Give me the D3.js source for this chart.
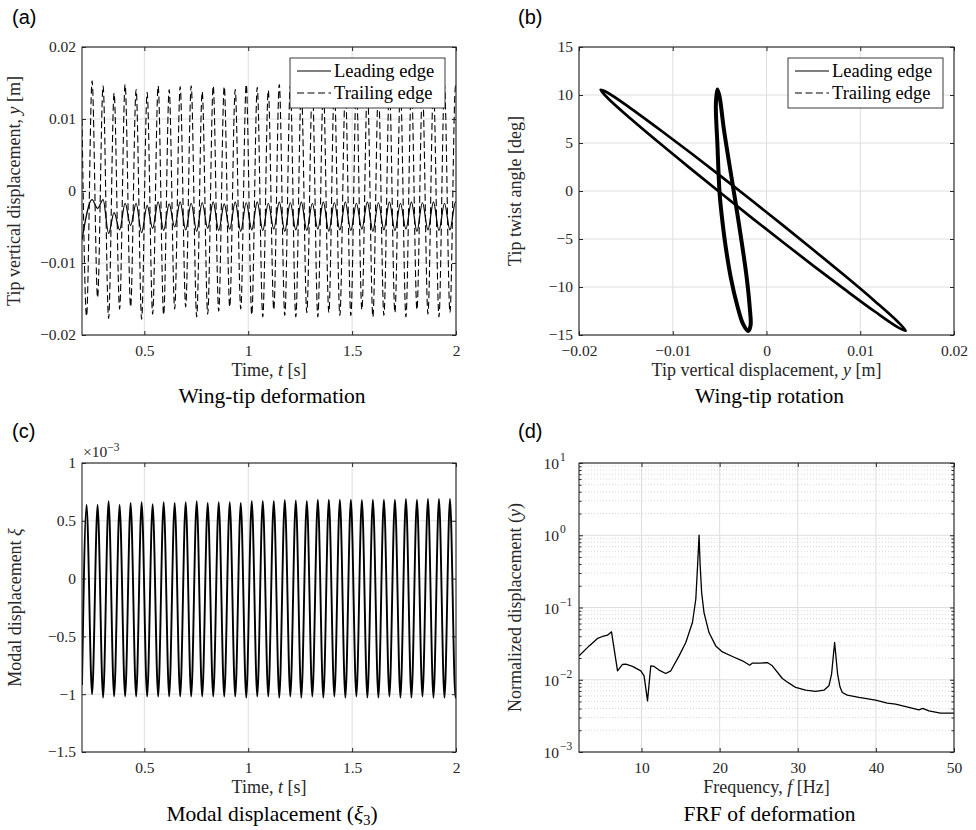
<!DOCTYPE html>
<html>
<head>
<meta charset="utf-8">
<script src="https://cdn.jsdelivr.net/npm/d3@7"></script>
<style>
  body { margin: 0; background: #fff; }
  svg text { font-family: "Liberation Serif", "Times New Roman", serif; }
  svg text.tag { font-family: "Liberation Sans", Arial, sans-serif; }
</style>
</head>
<body>
<script>
// ---------------- data ----------------
// (a) & (c): sampled instants (s) at each extremum of the response
const sampleTime = [0.2,0.222,0.2485,0.275,0.3015,0.328,0.3545,0.381,0.4075,0.434,0.4605,0.487,0.5135,0.540,0.5665,0.593,0.6195,0.646,0.6725,0.699,0.7255,0.752,0.7785,0.805,0.8315,0.858,0.8845,0.911,0.9375,0.964,0.9905,1.017,1.0435,1.070,1.0965,1.123,1.1495,1.176,1.2025,1.229,1.2555,1.282,1.3085,1.335,1.3615,1.388,1.4145,1.441,1.4675,1.494,1.5205,1.547,1.5735,1.600,1.6265,1.653,1.6795,1.706,1.7325,1.759,1.7855,1.812,1.8385,1.865,1.8915,1.918,1.9445,1.971,1.9975,2.0];

// trailing-edge tip displacement (m)
const teDisp = [0.0100,-0.0174,0.0153,-0.0148,0.0146,-0.0177,0.0136,-0.0164,0.0148,-0.0161,0.0141,-0.0178,0.0137,-0.0171,0.0146,-0.0172,0.0141,-0.0164,0.0145,-0.0161,0.0146,-0.0175,0.0138,-0.0171,0.0146,-0.0167,0.0145,-0.0161,0.0141,-0.0164,0.0148,-0.0172,0.0144,-0.0175,0.0140,-0.0165,0.0148,-0.0173,0.0146,-0.0175,0.0143,-0.0169,0.0147,-0.0175,0.0144,-0.0169,0.0146,-0.0173,0.0142,-0.0173,0.0147,-0.0165,0.0145,-0.0175,0.0143,-0.0173,0.0146,-0.0169,0.0144,-0.0175,0.0147,-0.0165,0.0143,-0.0171,0.0146,-0.0175,0.0147,-0.0169,0.0146,0.0145];

// leading-edge tip displacement (m)
const leTime = [0.2,0.2485,0.275,0.3015,0.328,0.3545,0.381,0.4075,0.434,0.4605,0.487,0.5135,0.540,0.5665,0.593,0.6195,0.646,0.6725,0.699,0.7255,0.752,0.7785,0.805,0.8315,0.858,0.8845,0.911,0.9375,0.964,0.9905,1.017,1.0435,1.070,1.0965,1.123,1.1495,1.176,1.2025,1.229,1.2555,1.282,1.3085,1.335,1.3615,1.388,1.4145,1.441,1.4675,1.494,1.5205,1.547,1.5735,1.600,1.6265,1.653,1.6795,1.706,1.7325,1.759,1.7855,1.812,1.8385,1.865,1.8915,1.918,1.9445,1.971,1.9975,2.0];
const leDisp = [-0.0068,-0.0012,-0.0024,-0.0012,-0.0059,-0.0030,-0.0054,-0.0017,-0.0048,-0.0017,-0.0058,-0.0020,-0.0052,-0.0015,-0.0055,-0.0018,-0.0050,-0.0015,-0.0054,-0.0017,-0.0056,-0.0016,-0.0052,-0.0015,-0.0055,-0.0018,-0.0053,-0.0015,-0.0056,-0.0016,-0.0054,-0.0015,-0.0055,-0.0017,-0.0053,-0.0015,-0.0056,-0.0016,-0.0054,-0.0015,-0.0055,-0.0017,-0.0053,-0.0015,-0.0056,-0.0016,-0.0054,-0.0015,-0.0055,-0.0017,-0.0053,-0.0015,-0.0056,-0.0016,-0.0054,-0.0015,-0.0055,-0.0017,-0.0053,-0.0015,-0.0056,-0.0016,-0.0054,-0.0015,-0.0055,-0.0017,-0.0054,-0.0015,-0.0016];

// (c) modal displacement xi_3, in units of 1e-3
const xiScaled = [-0.92,0.637,-1.00,0.637,-1.03,0.669,-1.02,0.637,-1.02,0.654,-1.02,0.660,-1.02,0.643,-1.02,0.660,-1.02,0.654,-1.02,0.660,-1.02,0.669,-1.02,0.654,-1.02,0.660,-1.02,0.660,-1.02,0.654,-1.03,0.672,-1.02,0.672,-1.02,0.672,-1.03,0.680,-1.02,0.677,-1.03,0.672,-1.02,0.683,-1.03,0.683,-1.02,0.683,-1.03,0.683,-1.02,0.680,-1.03,0.683,-1.03,0.683,-1.02,0.683,-1.03,0.689,-1.03,0.683,-1.02,0.689,-1.03,0.689,-1.03,0.689,-1.03,-1.01];

// (b) phase portraits: tip displacement (m) vs twist angle (deg)
const teLoopDisp  = [-0.0177,-0.01689,-0.01445,-0.01119,-0.00793,-0.00468,-0.00143,0.00183,0.00508,0.00834,0.01159,0.01403,0.01485,0.01403,0.01159,0.00834,0.00508,0.00183,-0.00143,-0.00468,-0.00793,-0.01119,-0.01445,-0.01689];
const teLoopTwist = [10.55,10.21,8.58,6.25,3.85,1.39,-1.10,-3.63,-6.20,-8.81,-11.50,-13.64,-14.55,-14.20,-12.58,-10.25,-7.85,-5.39,-2.90,-0.37,2.20,4.81,7.50,9.64];
const leLoopDisp  = [-0.00524,-0.00500,-0.00458,-0.00403,-0.00345,-0.00262,-0.00212,-0.00180,-0.00170,-0.00195,-0.00248,-0.00310,-0.00382,-0.00440,-0.00478,-0.00500,-0.00524,-0.00540];
const leLoopTwist = [10.58,9.8,6.67,3.2,-0.28,-5.49,-8.96,-12.0,-14.0,-14.58,-13.9,-12.0,-8.96,-5.49,-2.5,-0.28,4.93,9.0];

// (d) frequency response of the tip deformation
const frfFreq = [2.02,3.3,4.37,5.01,5.65,6.16,6.93,7.57,7.99,8.85,9.91,10.33,10.77,11.19,11.61,12.25,13.1,13.75,14.81,15.67,16.52,16.95,17.15,17.37,17.5,17.7,18.0,18.64,19.5,20.36,21.64,22.92,23.85,24.2,25.26,26.1,26.75,28.03,28.88,29.73,31.0,32.29,33.35,33.99,34.33,34.72,35.1,35.4,35.7,36.34,37.83,39.96,41.46,42.52,44.23,45.51,46.0,46.78,48.27,50.0];
const frfAmp  = [0.0214,0.0294,0.0373,0.0397,0.0414,0.046,0.0133,0.0163,0.0164,0.0153,0.0133,0.0113,0.0051,0.0156,0.0153,0.0136,0.0122,0.0133,0.0214,0.0328,0.062,0.130,0.33,1.0,0.40,0.16,0.085,0.045,0.0294,0.0243,0.021,0.0183,0.0159,0.0170,0.0170,0.0173,0.0156,0.0104,0.00897,0.00782,0.00718,0.00689,0.00718,0.00824,0.0120,0.0328,0.0120,0.0080,0.00667,0.00612,0.00569,0.00522,0.00475,0.0046,0.00414,0.00384,0.00401,0.00371,0.00345,0.00345];

// axis ticks and labels
const timeTicks = [0.5, 1, 1.5, 2];
const timeTickLabels = ["0.5", "1", "1.5", "2"];
const dispTicks = [-0.02, -0.01, 0, 0.01, 0.02];
const dispTickLabels = ["\u22120.02", "\u22120.01", "0", "0.01", "0.02"];
const twistTicks = [-15, -10, -5, 0, 5, 10, 15];
const twistTickLabels = ["\u221215", "\u221210", "\u22125", "0", "5", "10", "15"];
const xiTicks = [-1.5, -1, -0.5, 0, 0.5, 1];
const xiTickLabels = ["\u22121.5", "\u22121", "\u22120.5", "0", "0.5", "1"];
const freqTicks = [10, 20, 30, 40, 50];
const freqTickLabels = ["10", "20", "30", "40", "50"];
const ampTicks = [1e-3, 1e-2, 1e-1, 1, 10];
const ampTickExponents = ["\u22123", "\u22122", "\u22121", "0", "1"];
const legendNames = ["Leading edge", "Trailing edge"];

// ---------------- layout ----------------
const W = 976, H = 830;
const AXIS = "#262626", GRID = "#dedede", FS_TICK = 15.5, FS_LAB = 18, FS_LEG = 18.5, FS_TITLE = 21.5;
const svg = d3.select("body").append("svg").attr("width", W).attr("height", H);

const boxes = {
  a: {l: 82, r: 456, t: 47, b: 335},
  b: {l: 579, r: 954, t: 47, b: 335},
  c: {l: 82, r: 456, t: 463, b: 752},
  d: {l: 579, r: 954, t: 463, b: 752}
};

function clip(id, bx) {
  svg.append("clipPath").attr("id", id).append("rect")
    .attr("x", bx.l).attr("y", bx.t).attr("width", bx.r - bx.l).attr("height", bx.b - bx.t);
}

function grid(bx, x, y, xt, yt) {
  const g = svg.append("g").attr("stroke", GRID).attr("stroke-width", 1);
  g.selectAll(null).data(xt).join("line")
    .attr("x1", d => x(d)).attr("x2", d => x(d)).attr("y1", bx.t).attr("y2", bx.b);
  g.selectAll(null).data(yt).join("line")
    .attr("y1", d => y(d)).attr("y2", d => y(d)).attr("x1", bx.l).attr("x2", bx.r);
}

function styleAxis(g) {
  g.attr("font-size", FS_TICK).attr("color", AXIS);
  g.select(".domain").remove();
  g.selectAll("text").attr("fill", AXIS);
}

function axes(bx, x, y, xt, xl, yt, yl) {
  svg.append("g").attr("transform", `translate(0,${bx.b})`)
    .call(d3.axisBottom(x).tickValues(xt).tickFormat((d, i) => xl[i]).tickSize(-4).tickPadding(9.5))
    .call(styleAxis);
  svg.append("g").attr("transform", `translate(0,${bx.t})`)
    .call(d3.axisTop(x).tickValues(xt).tickFormat("").tickSize(-4))
    .call(styleAxis);
  svg.append("g").attr("transform", `translate(${bx.l},0)`)
    .call(d3.axisLeft(y).tickValues(yt).tickFormat(yl ? (d, i) => yl[i] : "").tickSize(-4).tickPadding(6))
    .call(styleAxis);
  svg.append("g").attr("transform", `translate(${bx.r},0)`)
    .call(d3.axisRight(y).tickValues(yt).tickFormat("").tickSize(-4))
    .call(styleAxis);
  svg.append("rect").attr("x", bx.l).attr("y", bx.t)
    .attr("width", bx.r - bx.l).attr("height", bx.b - bx.t)
    .attr("fill", "none").attr("stroke", AXIS).attr("stroke-width", 1.1);
}

function xLabel(bx, parts, dyBelow) {
  const t = svg.append("text").attr("x", (bx.l + bx.r) / 2).attr("y", bx.b + dyBelow)
    .attr("text-anchor", "middle").attr("font-size", FS_LAB).attr("fill", AXIS);
  parts.forEach(p => t.append("tspan").attr("font-style", p[1] ? "italic" : null).text(p[0]));
}
function yLabel(bx, xpos, parts) {
  const t = svg.append("text")
    .attr("transform", `translate(${xpos},${(bx.t + bx.b) / 2}) rotate(-90)`)
    .attr("text-anchor", "middle").attr("font-size", FS_LAB).attr("fill", AXIS);
  parts.forEach(p => t.append("tspan").attr("font-style", p[1] ? "italic" : null).text(p[0]));
}
function title(bx, yb, build) {
  const t = svg.append("text").attr("x", (bx.l + bx.r) / 2 + 3).attr("y", yb)
    .attr("text-anchor", "middle").attr("font-size", FS_TITLE).attr("fill", "#000");
  build(t);
}
function tag(x, y, s) {
  svg.append("text").attr("class", "tag").attr("x", x).attr("y", y).text(s)
    .attr("font-size", 20).attr("fill", "#000");
}
function legend(x0, y0) {
  const w = 155, h = 50;
  const g = svg.append("g");
  g.append("rect").attr("x", x0).attr("y", y0).attr("width", w).attr("height", h)
    .attr("fill", "#fff").attr("stroke", AXIS).attr("stroke-width", 0.9);
  legendNames.forEach((name, i) => {
    const yy = y0 + 13 + i * 22;
    g.append("line").attr("x1", x0 + 7).attr("x2", x0 + 41).attr("y1", yy).attr("y2", yy)
      .attr("stroke", "#000").attr("stroke-width", 1.1)
      .attr("stroke-dasharray", i === 1 ? "7,3.5" : null);
    g.append("text").attr("x", x0 + 44).attr("y", yy + 5.5).attr("font-size", FS_LEG)
      .attr("fill", "#000").text(name);
  });
}

// ---------------- (a) wing-tip deformation ----------------
{
  const bx = boxes.a;
  const x = d3.scaleLinear().domain([0.2, 2]).range([bx.l, bx.r]);
  const y = d3.scaleLinear().domain([-0.02, 0.02]).range([bx.b, bx.t]);
  clip("clipA", bx);
  grid(bx, x, y, timeTicks, dispTicks);
  const line = d3.line().x(d => x(d[0])).y(d => y(d[1])).curve(d3.curveMonotoneX);
  const pg = svg.append("g").attr("clip-path", "url(#clipA)").attr("fill", "none").attr("stroke", "#000");
  pg.append("path").datum(d3.zip(sampleTime, teDisp)).attr("d", line)
    .attr("stroke-width", 1.1).attr("stroke-dasharray", "7,3.5");
  pg.append("path").datum(d3.zip(leTime, leDisp)).attr("d", line).attr("stroke-width", 1.2);
  axes(bx, x, y, timeTicks, timeTickLabels, dispTicks, dispTickLabels);
  legend(290, 58);
  xLabel(bx, [["Time, ", false], ["t", true], [" [s]", false]], 41);
  yLabel(bx, 20, [["Tip vertical displacement, ", false], ["y", true], [" [m]", false]]);
  title(bx, 403, t => t.text("Wing-tip deformation"));
  tag(12, 24, "(a)");
}

// ---------------- (b) wing-tip rotation ----------------
{
  const bx = boxes.b;
  const x = d3.scaleLinear().domain([-0.02, 0.02]).range([bx.l, bx.r]);
  const y = d3.scaleLinear().domain([-15, 15]).range([bx.b, bx.t]);
  clip("clipB", bx);
  grid(bx, x, y, dispTicks, twistTicks);
  const loop = d3.line().x(d => x(d[0])).y(d => y(d[1])).curve(d3.curveCatmullRomClosed.alpha(0.5));
  const pg = svg.append("g").attr("clip-path", "url(#clipB)").attr("fill", "none").attr("stroke", "#000");
  pg.append("path").datum(d3.zip(teLoopDisp, teLoopTwist)).attr("d", loop).attr("stroke-width", 2.7);
  pg.append("path").datum(d3.zip(leLoopDisp, leLoopTwist)).attr("d", loop).attr("stroke-width", 4);
  axes(bx, x, y, dispTicks, dispTickLabels, twistTicks, twistTickLabels);
  legend(788, 58);
  xLabel(bx, [["Tip vertical displacement, ", false], ["y", true], [" [m]", false]], 41);
  yLabel(bx, 521, [["Tip twist angle [deg]", false]]);
  title(bx, 403, t => t.text("Wing-tip rotation"));
  tag(518, 24, "(b)");
}

// ---------------- (c) modal displacement ----------------
{
  const bx = boxes.c;
  const x = d3.scaleLinear().domain([0.2, 2]).range([bx.l, bx.r]);
  const y = d3.scaleLinear().domain([-1.5, 1]).range([bx.b, bx.t]);
  clip("clipC", bx);
  grid(bx, x, y, timeTicks, xiTicks);
  const line = d3.line().x(d => x(d[0])).y(d => y(d[1])).curve(d3.curveMonotoneX);
  svg.append("path").datum(d3.zip(sampleTime, xiScaled)).attr("clip-path", "url(#clipC)")
    .attr("d", line).attr("fill", "none").attr("stroke", "#000").attr("stroke-width", 1.9);
  axes(bx, x, y, timeTicks, timeTickLabels, xiTicks, xiTickLabels);
  const ex = svg.append("text").attr("x", bx.l + 1).attr("y", bx.t - 6).attr("font-size", FS_TICK).attr("fill", AXIS);
  ex.append("tspan").text("\u00d710");
  ex.append("tspan").attr("font-size", 11.5).attr("dy", -6).text("\u22123");
  xLabel(bx, [["Time, ", false], ["t", true], [" [s]", false]], 41);
  yLabel(bx, 21, [["Modal displacement ", false], ["\u03be", true]]);
  title(bx, 821, t => {
    t.append("tspan").text("Modal displacement (");
    t.append("tspan").attr("font-style", "italic").text("\u03be");
    t.append("tspan").attr("font-size", 14.5).attr("dy", 4).text("3");
    t.append("tspan").attr("dy", -4).text(")");
  });
  tag(12, 438, "(c)");
}

// ---------------- (d) FRF ----------------
{
  const bx = boxes.d;
  const x = d3.scaleLinear().domain([2, 50]).range([bx.l, bx.r]);
  const y = d3.scaleLog().domain([1e-3, 10]).range([bx.b, bx.t]);
  clip("clipD", bx);
  const minor = [];
  for (let e = -3; e < 1; e++) for (let m = 2; m <= 9; m++) minor.push(m * Math.pow(10, e));
  svg.append("g").selectAll(null).data(minor).join("line")
    .attr("x1", bx.l).attr("x2", bx.r).attr("y1", d => y(d)).attr("y2", d => y(d))
    .attr("stroke", "#cfcfcf").attr("stroke-width", 0.8).attr("stroke-dasharray", "1,2");
  grid(bx, x, y, freqTicks, ampTicks);
  const line = d3.line().x(d => x(d[0])).y(d => y(d[1]));
  svg.append("path").datum(d3.zip(frfFreq, frfAmp)).attr("clip-path", "url(#clipD)")
    .attr("d", line).attr("fill", "none").attr("stroke", "#000").attr("stroke-width", 1.3)
    .attr("stroke-linejoin", "round");
  // minor ticks on the log axis
  svg.append("g").attr("transform", `translate(${bx.l},0)`)
    .call(d3.axisLeft(y).tickValues(minor).tickFormat("").tickSize(-2.5)).call(styleAxis);
  svg.append("g").attr("transform", `translate(${bx.r},0)`)
    .call(d3.axisRight(y).tickValues(minor).tickFormat("").tickSize(-2.5)).call(styleAxis);
  axes(bx, x, y, freqTicks, freqTickLabels, ampTicks, null);
  // power-of-ten tick labels
  ampTicks.forEach((v, i) => {
    svg.append("text").attr("x", bx.l - 20).attr("y", y(v) + 6)
      .attr("text-anchor", "end").attr("font-size", FS_TICK).attr("fill", AXIS).text("10");
    svg.append("text").attr("x", bx.l - 19).attr("y", y(v) - 2)
      .attr("font-size", 11.5).attr("fill", AXIS).text(ampTickExponents[i]);
  });
  xLabel(bx, [["Frequency, ", false], ["f", true], [" [Hz]", false]], 41);
  yLabel(bx, 521, [["Normalized displacement (", false], ["y", true], [")", false]]);
  title(bx, 821, t => t.text("FRF of deformation"));
  tag(518, 438, "(d)");
}
</script>
</body>
</html>
